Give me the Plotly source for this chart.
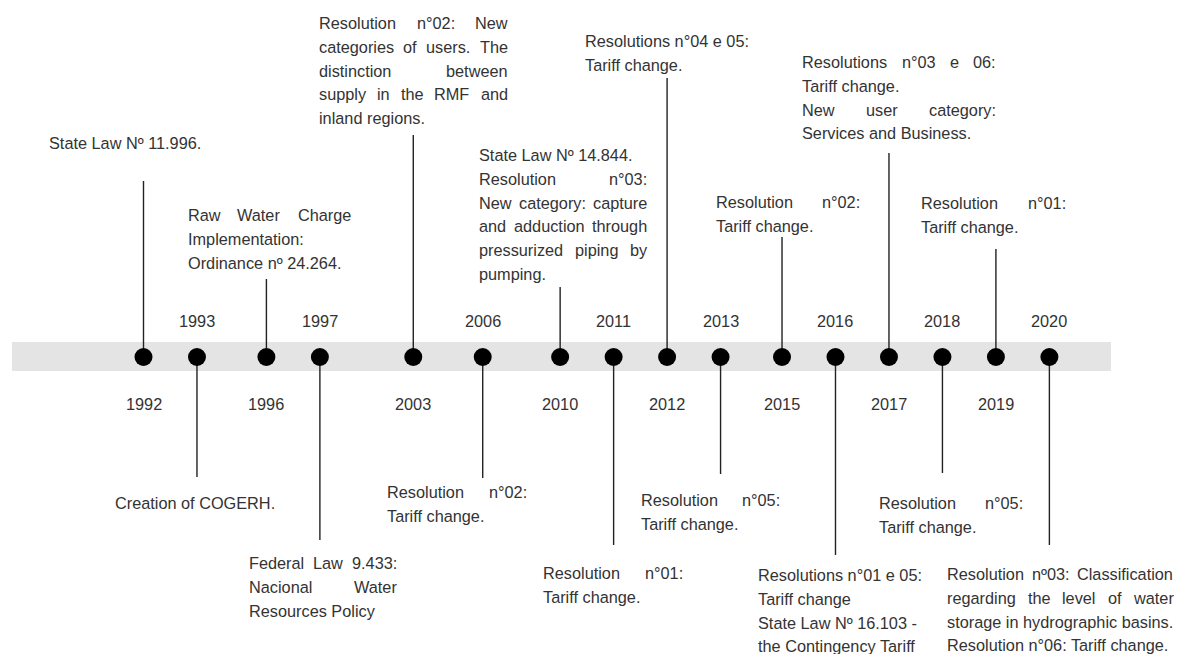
import plotly.graph_objects as go

# ---------------- data ----------------
years = [1992, 1993, 1996, 1997, 2003, 2006, 2010, 2011,
         2012, 2013, 2015, 2016, 2017, 2018, 2019, 2020]

# each event: list of paragraphs, each paragraph a list of lines
descriptions = [
    [["State Law Nº 11.996."]],
    [["Creation of COGERH."]],
    [["Raw Water Charge", "Implementation:", "Ordinance nº 24.264."]],
    [["Federal Law 9.433:", "Nacional Water", "Resources Policy"]],
    [["Resolution n°02: New", "categories of users. The", "distinction between",
      "supply in the RMF and", "inland regions."]],
    [["Resolution n°02:", "Tariff change."]],
    [["State Law Nº 14.844."],
     ["Resolution n°03:", "New category: capture", "and adduction through",
      "pressurized piping by", "pumping."]],
    [["Resolution n°01:", "Tariff change."]],
    [["Resolutions n°04 e 05:", "Tariff change."]],
    [["Resolution n°05:", "Tariff change."]],
    [["Resolution n°02:", "Tariff change."]],
    [["Resolutions n°01 e 05:"], ["Tariff change"], ["State Law Nº 16.103 -"],
     ["the Contingency Tariff"]],
    [["Resolutions n°03 e 06:", "Tariff change."],
     ["New user category:", "Services and Business."]],
    [["Resolution n°05:", "Tariff change."]],
    [["Resolution n°01:", "Tariff change."]],
    [["Resolution nº03: Classification", "regarding the level of water",
      "storage in hydrographic basins."],
     ["Resolution n°06: Tariff change."]],
]

# ---------------- layout / placement (page pixels) ----------------
W, H = 1183, 654
PAGE_OFF = 8           # default body margin of the html page
PX_PER_UNIT = 45.49
ORIGIN_PX = 143.5
YEAR_WEIGHT = 0.1755   # extra spacing per elapsed year, relative to one event step
AXIS_Y = 357
LINE_H = 23.8
FONT = "Liberation Sans, Arial, sans-serif"
FSIZE = 16.3
TXT_COLOR = "#333333"

# per event: text-block left edge, first line y, block width (None = natural), connector end y
placement = [
    dict(left=49, y0=143, w=None, end=181),
    dict(left=115, y0=503, w=None, end=477),
    dict(left=188, y0=215, w=163, end=279),
    dict(left=249, y0=563, w=148, end=540),
    dict(left=319, y0=23, w=189, end=135),
    dict(left=387, y0=492, w=140, end=478),
    dict(left=479, y0=155, w=168, end=287),
    dict(left=543, y0=573, w=140, end=545),
    dict(left=585, y0=41, w=None, end=78),
    dict(left=641, y0=500, w=139, end=474),
    dict(left=716, y0=202, w=144, end=237),
    dict(left=758, y0=575, w=None, end=555),
    dict(left=802, y0=62, w=194, end=153),
    dict(left=879, y0=503, w=144, end=473),
    dict(left=921, y0=203, w=145, end=249),
    dict(left=947, y0=574, w=226, end=545),
]

# Arial / Liberation Sans advance widths (1/1000 em)
CW = {' ': 278, '-': 333, '.': 278, ':': 278, ',': 278, '°': 400, 'º': 365}
CW.update({d: 556 for d in "0123456789"})
CW.update(dict(zip("abcdefghijklmnopqrstuvwxyz",
                   [556, 556, 500, 556, 556, 278, 556, 556, 222, 222, 500, 222, 833,
                    556, 556, 556, 556, 333, 500, 278, 556, 500, 722, 500, 500, 500])))
CW.update(dict(zip("ABCDEFGHIJKLMNOPQRSTUVWXYZ",
                   [667, 667, 722, 722, 667, 611, 778, 722, 278, 500, 667, 556, 833,
                    722, 778, 667, 778, 722, 667, 611, 722, 667, 944, 667, 667, 611])))


def text_w(s):
    return sum(CW.get(c, 556) for c in s) * FSIZE / 1000.0


def px_to_x(px):
    return (px - ORIGIN_PX) / PX_PER_UNIT


# timeline position of each event: event order plus a weight for the year gap
tpos = [i + YEAR_WEIGHT * (y - years[0]) for i, y in enumerate(years)]

fig = go.Figure()

# connectors
lx, ly = [], []
for tv, pl in zip(tpos, placement):
    lx += [tv, tv, None]
    ly += [AXIS_Y, pl["end"], None]
fig.add_trace(go.Scatter(x=lx, y=ly, mode="lines",
                         line=dict(color="#222222", width=1.4),
                         hoverinfo="skip", showlegend=False))

# dots
fig.add_trace(go.Scatter(x=tpos, y=[AXIS_Y] * len(tpos), mode="markers",
                         marker=dict(size=18, color="#000000", line=dict(width=0)),
                         text=[str(y) for y in years], hoverinfo="text",
                         showlegend=False))

annotations = []


def add_text(x, y, s, anchor="left"):
    annotations.append(dict(x=x, y=y, xref="x", yref="y", text=s, showarrow=False,
                            xanchor=anchor, yanchor="middle", borderpad=0, borderwidth=0,
                            font=dict(family=FONT, size=FSIZE, color=TXT_COLOR)))


for i, (tv, yr, desc, pl) in enumerate(zip(tpos, years, descriptions, placement)):
    up = (i % 2 == 0)
    # year label
    add_text(tv, 404 if up else 321, str(yr), anchor="center")
    # description block (justified like the original)
    left = pl["left"]
    k = 0
    for para in desc:
        for j, line in enumerate(para):
            yline = pl["y0"] + k * LINE_H
            words = line.split(" ")
            last = (j == len(para) - 1)
            if pl["w"] is None or last or len(words) == 1:
                add_text(px_to_x(left), yline, line)
            else:
                ws = [text_w(wd) for wd in words]
                gap = (pl["w"] - sum(ws)) / (len(words) - 1)
                gap = max(gap, text_w(" "))
                pos = 0.0
                for wd, wv in zip(words, ws):
                    add_text(px_to_x(left + pos), yline, wd)
                    pos += wv + gap
            k += 1

fig.update_layout(
    width=W - PAGE_OFF, height=H - PAGE_OFF, autosize=False,
    margin=dict(l=0, r=0, t=0, b=0, pad=0),
    paper_bgcolor="white", plot_bgcolor="white",
    xaxis=dict(range=[px_to_x(PAGE_OFF), px_to_x(W)], visible=False, fixedrange=True),
    yaxis=dict(range=[H, PAGE_OFF], visible=False, fixedrange=True),
    shapes=[dict(type="rect", xref="x", yref="y",
                 x0=px_to_x(12), x1=px_to_x(1111),
                 y0=342, y1=371, fillcolor="#e4e4e4", line=dict(width=0),
                 layer="below")],
    annotations=annotations,
    showlegend=False,
)

fig.write_html("out.html")
